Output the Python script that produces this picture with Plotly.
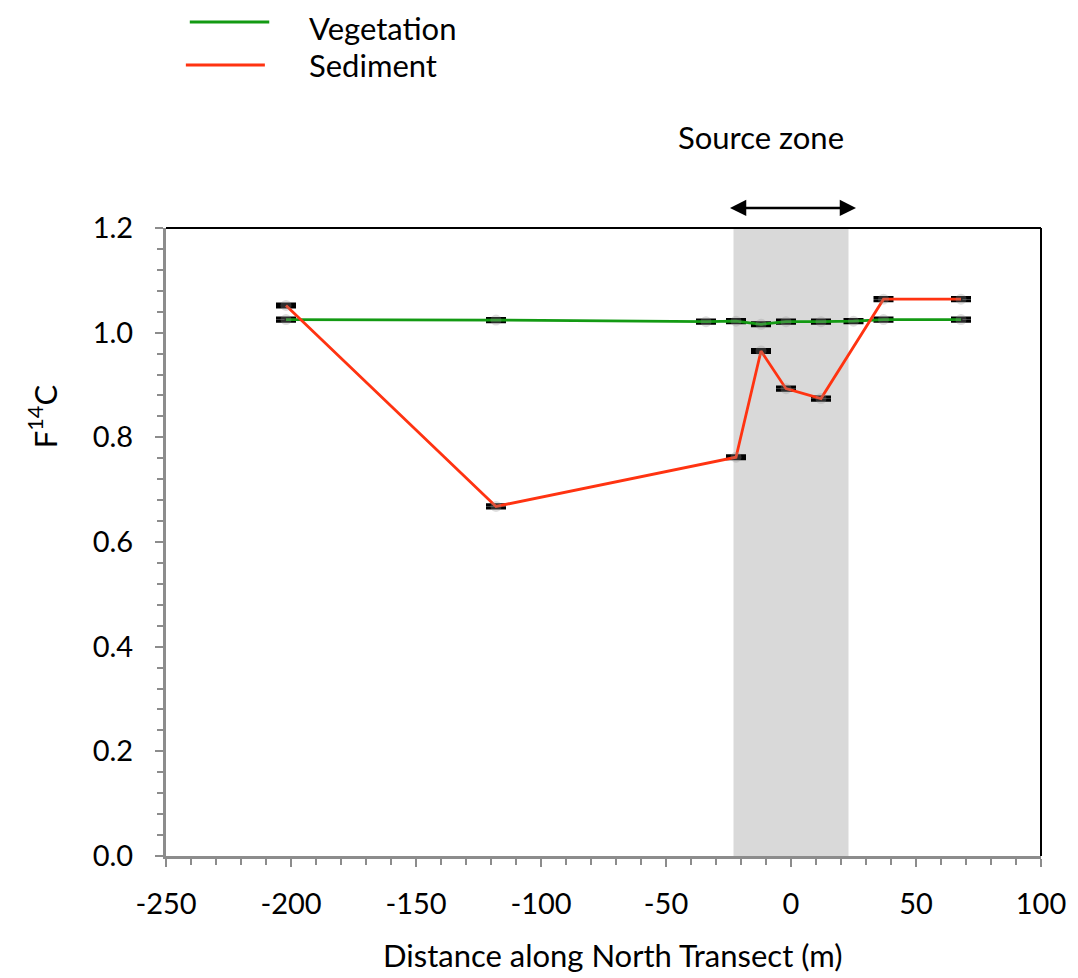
import plotly.graph_objects as go

# Data
veg_x = [-202, -118, -34, -22, -12, -2, 12, 25, 37, 68]
veg_y = [1.025, 1.024, 1.021, 1.022, 1.016, 1.021, 1.021, 1.022, 1.025, 1.025]
sed_x = [-202, -118, -22, -12, -2, 12, 37, 68]
sed_y = [1.052, 0.668, 0.762, 0.965, 0.893, 0.874, 1.064, 1.064]
source_zone = [-23, 23]
x_ticks = [-250, -200, -150, -100, -50, 0, 50, 100]
x_ticklabels = ["-250", "-200", "-150", "-100", "-50", "0", "50", "100"]
y_ticks = [0.0, 0.2, 0.4, 0.6, 0.8, 1.0, 1.2]

GREEN = "#139a13"
RED = "#ff3311"
FONT = "Lato"
TICK_SIZE = 29
TEXT_SIZE = 31

fig = go.Figure()

fig.add_vrect(x0=source_zone[0], x1=source_zone[1], fillcolor="#d9d9d9",
              line_width=0, layer="below")

for xs, ys, col in [(veg_x, veg_y, GREEN), (sed_x, sed_y, RED)]:
    fig.add_trace(go.Scatter(
        x=xs, y=ys, mode="lines+markers",
        line=dict(color=col, width=2.8),
        marker=dict(size=11, color="rgba(150,150,150,0.3)"),
        error_y=dict(type="constant", value=0.003, color="black",
                     thickness=3, width=10),
        showlegend=False))

axis_common = dict(
    showline=True, linecolor="#8c8c8c", linewidth=3,
    ticks="outside", ticklen=8, tickwidth=2, tickcolor="#8c8c8c",
    showgrid=False, zeroline=False,
    tickfont=dict(family=FONT, size=TICK_SIZE, color="black"),
)

fig.update_xaxes(
    range=[-250, 100], tickvals=x_ticks, ticktext=x_ticklabels,
    ticklabelstandoff=12,
    minor=dict(dtick=10, ticks="outside", ticklen=6, tickwidth=2, tickcolor="#8c8c8c"),
    **axis_common)
fig.update_yaxes(
    range=[0, 1.2], tickvals=y_ticks, tickformat=".1f",
    ticklabelstandoff=16,
    minor=dict(dtick=0.04, ticks="outside", ticklen=6, tickwidth=2, tickcolor="#8c8c8c"),
    **axis_common)

# axis titles
fig.add_annotation(x=-0.1407, y=0.70, xref="paper", yref="paper",
                   xanchor="center", yanchor="middle",
                   text="F<sup>14</sup>C", textangle=-90, showarrow=False,
                   font=dict(family=FONT, size=TEXT_SIZE, color="black"))
fig.add_annotation(x=0.51, y=-0.158, xref="paper", yref="paper",
                   xanchor="center", yanchor="middle",
                   text="Distance along North Transect (m)", showarrow=False,
                   font=dict(family=FONT, size=TEXT_SIZE, color="black"))

# top and right frame
fig.add_shape(type="line", xref="paper", yref="paper", x0=0, x1=1, y0=1, y1=1,
              line=dict(color="black", width=2))
fig.add_shape(type="line", xref="paper", yref="paper", x0=1, x1=1, y0=0, y1=1,
              line=dict(color="black", width=2))

# Source zone arrow and label
fig.add_annotation(x=26, y=1.032, xref="x", yref="paper",
                   ax=-25, ay=0, axref="x", ayref="pixel",
                   showarrow=True, arrowhead=2, arrowside="end+start",
                   arrowsize=1.3, arrowwidth=2.5, arrowcolor="black", text="")
fig.add_annotation(x=-12, y=1.145, xref="x", yref="paper", text="Source zone",
                   xanchor="center", yanchor="middle",
                   showarrow=False, font=dict(family=FONT, size=TEXT_SIZE, color="black"))

# Manual legend
for y, ty, col, name, x0, x1 in [(1.328, 1.318, GREEN, "Vegetation", 0.0272, 0.118),
                                 (1.2596, 1.2596, RED, "Sediment", 0.0227, 0.113)]:
    fig.add_shape(type="line", xref="paper", yref="paper", x0=x0, x1=x1, y0=y, y1=y,
                  line=dict(color=col, width=3))
    fig.add_annotation(x=0.1623, y=ty, xref="paper", yref="paper", text=name,
                       xanchor="left", yanchor="middle", showarrow=False,
                       borderpad=0,
                       font=dict(family=FONT, size=TEXT_SIZE, color="black"))

fig.update_layout(
    width=1070, height=970,
    margin=dict(l=158, r=26, t=220, b=122),
    plot_bgcolor="white", paper_bgcolor="white",
    showlegend=False,
)

fig.write_html("out.html")
